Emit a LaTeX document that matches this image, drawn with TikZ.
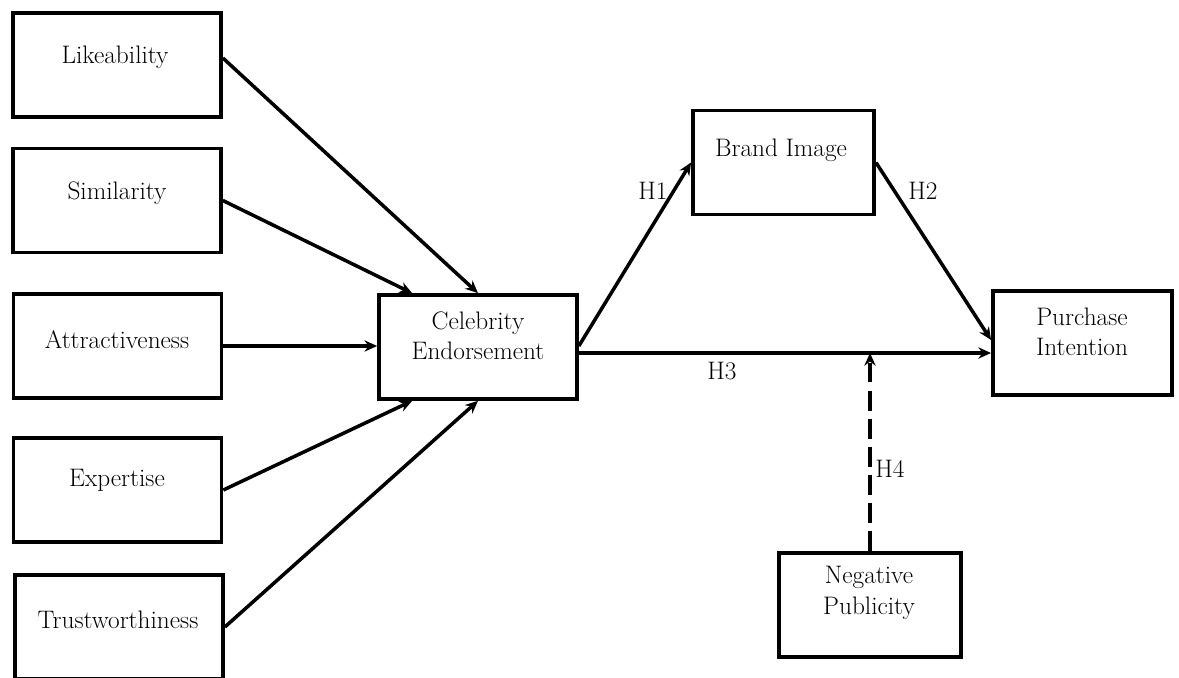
\documentclass[tikz,border=0pt]{standalone}
\usetikzlibrary{arrows.meta,calc}
\begin{document}
\begin{tikzpicture}[x=0.025cm,y=-0.025cm,
  box/.style={draw,line width=2.6pt,minimum width=#1,minimum height=2.6cm,inner sep=0pt},
  txt/.style={font=\fontsize{18}{21.5}\selectfont,align=center,inner sep=0pt},
  conn/.style={line width=2.5pt,-{Stealth[length=9pt,width=8pt]}},
  dconn/.style={conn,dash pattern=on 14pt off 6pt}
]
\useasboundingbox (0,0) rectangle (1179,678);

% left boxes
\node[box=5.2cm] (like) at (117,65) {};
\node[box=5.2cm] (sim)  at (117,200.5) {};
\node[box=5.2cm] (att)  at (117.5,346) {};
\node[box=5.2cm] (exp)  at (117.5,490) {};
\node[box=5.2cm] (tru)  at (119,627) {};
\node[txt] (likeT) at (115,57) {Likeability};
\node[txt] (simT)  at (117,193) {Similarity};
\node[txt] (attT)  at (117,340) {Attractiveness};
\node[txt] (expT)  at (117,480) {Expertise};
\node[txt] (truT)  at (118,620) {Trustworthiness};

% other boxes
\node[box=4.95cm] (ce) at (478,347) {};
\node[txt] (ceT) at (478,336) {Celebrity\\Endorsement};
\node[box=4.53cm] (bi) at (783.5,162.5) {};
\node[txt] (biT) at (781,150) {Brand Image};
\node[box=4.48cm] (pi) at (1082.5,343) {};
\node[txt] (piT) at (1082,332) {Purchase\\Intention};
\node[box=4.55cm] (np) at (870,605) {};
\node[txt] (npT) at (869,593) {Negative\\Publicity};

% left connectors
\coordinate (ceA) at ($(ce.north west)+(35,0)$);
\coordinate (ceB) at ($(ce.south west)+(35,0)$);
\draw[conn] ($(like.east)+(0,-7)$) -- (ce.north);
\draw[conn] (sim.east) -- (ceA);
\draw[conn] (att.east) -- (att.east -| ce.west);
\draw[conn] (exp.east) -- (ceB);
\draw[conn] (tru.east) -- (ce.south);

% right connectors
\coordinate (h3s) at ($(ce.east)+(0,6)$);
\coordinate (h4e) at (np.north |- h3s);
\draw[conn] ($(ce.east)+(0,-1)$) -- (bi.west);
\draw[conn] (bi.east) -- ($(pi.west)+(0,-3)$);
\draw[conn] (h3s) -- (h3s -| pi.west);
\draw[dconn] (np.north) -- (h4e);

% labels
\node[txt] (h1) at (653,191) {H1};
\node[txt] (h2) at (923,191) {H2};
\node[txt] (h3) at (722,371) {H3};
\node[txt] (h4) at (890,469) {H4};
\end{tikzpicture}
\end{document}
